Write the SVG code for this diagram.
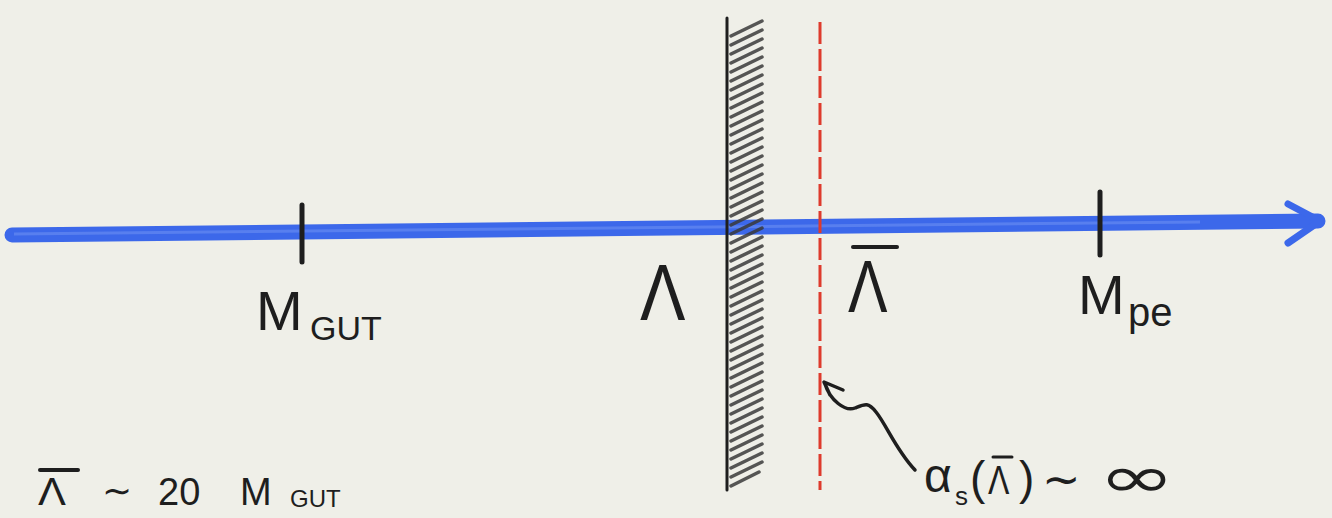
<svg xmlns="http://www.w3.org/2000/svg" width="1332" height="518" viewBox="0 0 1332 518">
<style>
.ink{fill:#1e1e1e;font-family:"Liberation Sans",Arial,sans-serif;}
.pen{fill:none;stroke:#1e1e1e;stroke-linecap:round;stroke-linejoin:round;}
</style>
<rect width="1332" height="518" fill="#efefe8"/>
<g id="axis">
<path d="M12 235 L1318 221" stroke="#3c68ea" stroke-width="15" stroke-linecap="round" fill="none"/>
<path d="M14 234 L1200 222" stroke="#6a90f2" stroke-width="3" fill="none" opacity="0.6"/>
<path d="M1288 204 L1320 221 L1288 243" stroke="#3c68ea" stroke-width="7" stroke-linecap="round" stroke-linejoin="round" fill="none"/>
</g>
<g id="mgut">
<path class="pen" d="M302 205 L302 262" stroke-width="5"/>
<text class="ink" x="256" y="330" font-size="56">M</text>
<text class="ink" x="310" y="340" font-size="34">GUT</text>
</g>
<g id="wall">
<path class="pen" d="M727 18 L727 490" stroke-width="3"/>
<path fill="none" stroke="#3a3a3a" stroke-width="3.5" stroke-linecap="round" opacity="0.85" d="M731 36 l31 -15 M731 45 l31 -15 M731 54 l31 -15 M731 63 l31 -15 M731 72 l31 -15 M731 81 l31 -15 M731 90 l31 -15 M731 99 l31 -15 M731 108 l31 -15 M731 117 l31 -15 M731 126 l31 -15 M731 135 l31 -15 M731 144 l31 -15 M731 153 l31 -15 M731 162 l31 -15 M731 171 l31 -15 M731 180 l31 -15 M731 189 l31 -15 M731 198 l31 -15 M731 207 l31 -15 M731 216 l31 -15 M731 225 l31 -15 M731 234 l31 -15 M731 243 l31 -15 M731 252 l31 -15 M731 261 l31 -15 M731 270 l31 -15 M731 279 l31 -15 M731 288 l31 -15 M731 297 l31 -15 M731 306 l31 -15 M731 315 l31 -15 M731 324 l31 -15 M731 333 l31 -15 M731 342 l31 -15 M731 351 l31 -15 M731 360 l31 -15 M731 369 l31 -15 M731 378 l31 -15 M731 387 l31 -15 M731 396 l31 -15 M731 405 l31 -15 M731 414 l31 -15 M731 423 l31 -15 M731 432 l31 -15 M731 441 l31 -15 M731 450 l31 -15 M731 459 l31 -15 M731 468 l31 -15 M731 477 l31 -15 M731 486 l28 -14"/>
</g>
<g id="lambda">
<text class="ink" x="640" y="320" font-size="80" transform="translate(640 0) scale(0.85 1) translate(-640 0)">Λ</text>
</g>
<g id="redline">
<path d="M820 22 L820 490" stroke="#de3a2c" stroke-width="3" stroke-dasharray="22 5" fill="none"/>
</g>
<g id="lambdabar">
<path class="pen" d="M853 247 L897 247" stroke-width="4"/>
<text class="ink" x="848" y="312" font-size="74" transform="translate(848 0) scale(0.8 1) translate(-848 0)">Λ</text>
</g>
<g id="mpe">
<path class="pen" d="M1100 192 L1100 255" stroke-width="5"/>
<text class="ink" x="1078" y="314" font-size="56">M</text>
<text class="ink" x="1128" y="326" font-size="40">pe</text>
</g>
<g id="connectors">
<path class="pen" stroke-width="3.5" d="M830 395 L824 382 L843 390 M825 384 C830 400 845 412 855 408 C865 404 868 402 876 412 C886 424 896 450 915 470"/>
</g>
<g id="alpha">
<text class="ink" x="924" y="492" font-size="48">α</text>
<text class="ink" x="955" y="505" font-size="26">s</text>
<text class="ink" x="970" y="494" font-size="46">(</text>
<path class="pen" d="M993 457 L1012 457" stroke-width="3"/>
<text class="ink" x="988" y="494" font-size="40" transform="translate(988 0) scale(0.8 1) translate(-988 0)">Λ</text>
<text class="ink" x="1019" y="494" font-size="46">)</text>
<text class="ink" x="1042" y="495" font-size="46">∼</text>
<text class="ink" x="1098" y="497" font-size="58" style="font-family:'DejaVu Sans',sans-serif" transform="translate(1098 0) scale(1.6 1) translate(-1098 0)">∞</text>
</g>
<g id="relation">
<path class="pen" d="M40 470 L78 470" stroke-width="4"/>
<text class="ink" x="38" y="505" font-size="38" transform="translate(38 0) scale(1.1 1) translate(-38 0)">Λ</text>
<text class="ink" x="102" y="503" font-size="36">∼</text>
<text class="ink" x="158" y="505" font-size="38">20</text>
<text class="ink" x="240" y="505" font-size="38">M</text>
<text class="ink" x="290" y="507" font-size="24">GUT</text>
</g>
</svg>
